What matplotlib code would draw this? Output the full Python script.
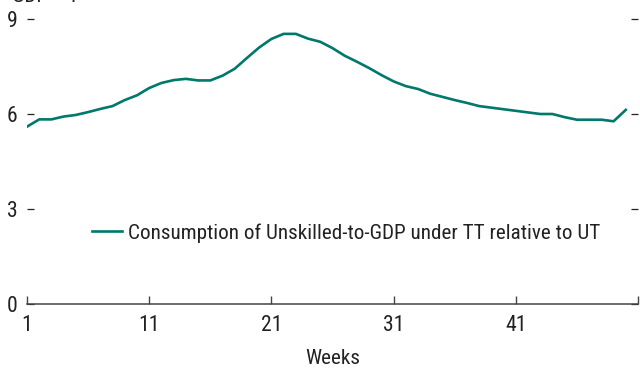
import matplotlib
matplotlib.use("Agg")
import matplotlib.pyplot as plt
from matplotlib import font_manager
import numpy as np

TEAL = "#00786a"
AXIS_GREY = "#444444"
TEXT = "#222222"

# Prefer a condensed sans face; fall back to a regular one set a little smaller.
NARROW_FACES = ["Roboto Condensed", "Arial Narrow", "Liberation Sans Narrow",
                "Archivo Narrow", "PT Sans Narrow", "Open Sans Condensed",
                "IBM Plex Sans Condensed", "Fira Sans Condensed", "Asap Condensed",
                "Encode Sans Condensed"]
installed = {f.name for f in font_manager.fontManager.ttflist}
narrow = [name for name in NARROW_FACES if name in installed]
if narrow:
    FAMILY, SIZE = narrow[0], 15.2
else:
    FAMILY, SIZE = "Liberation Sans", 12.2

plt.rcParams.update(
    {
        "font.family": [FAMILY, "DejaVu Sans"],
        "font.size": SIZE,
    }
)

weeks = np.arange(1, 51)
consumption = [
    5.60, 5.83, 5.83, 5.92, 5.97, 6.06, 6.16, 6.25, 6.44, 6.59,
    6.82, 6.98, 7.07, 7.11, 7.06, 7.06, 7.21, 7.43, 7.77, 8.10,
    8.37, 8.53, 8.53, 8.38, 8.28, 8.08, 7.84, 7.65, 7.45, 7.23,
    7.03, 6.88, 6.79, 6.64, 6.54, 6.44, 6.35, 6.25, 6.20, 6.15,
    6.10, 6.05, 6.00, 6.00, 5.90, 5.82, 5.82, 5.82, 5.77, 6.13,
]
series_label = "Consumption of Unskilled-to-GDP under TT relative to UT"
x_ticks = [1, 11, 21, 31, 41, 51]
x_ticklabels = ["1", "11", "21", "31", "41", ""]
y_ticks = [0, 3, 6, 9]

fig = plt.figure(figsize=(6.4, 3.69), dpi=100)
ax = fig.add_axes([27 / 640, 65 / 369, 611 / 640, 285 / 369])

ax.plot(weeks, consumption, color=TEAL, linewidth=1.9, label=series_label,
        solid_joinstyle="round")

ax.set_xlim(1, 51)
ax.set_ylim(0, 9)
ax.set_xticks(x_ticks)
ax.set_xticklabels(x_ticklabels)
ax.set_yticks(y_ticks)

for side in ("top", "left", "right"):
    ax.spines[side].set_visible(False)
ax.spines["bottom"].set_color(AXIS_GREY)
ax.spines["bottom"].set_linewidth(1.1)

ax.tick_params(axis="x", direction="in", length=6, width=1.0, color=AXIS_GREY,
               pad=8, labelcolor=TEXT, labelsize=SIZE + 0.5)
ax.tick_params(axis="y", direction="in", length=5, width=0.9, color=TEXT,
               pad=7, right=True, labelcolor=TEXT, labelsize=SIZE + 0.5)

ax.set_xlabel("Weeks", color=TEXT, labelpad=9)

handle_px = 30
ax.legend(loc="center left", bbox_to_anchor=(65 / 611, 71 / 285), frameon=False,
          borderpad=0, borderaxespad=0,
          handlelength=handle_px / (SIZE * 100 / 72),
          handletextpad=0.3, labelcolor=TEXT)

fig.text(12 / 640, 1 - 1.5 / 369, "GDP = 1", ha="left", va="baseline", color=TEXT)

fig.savefig("out.png", dpi=100)
